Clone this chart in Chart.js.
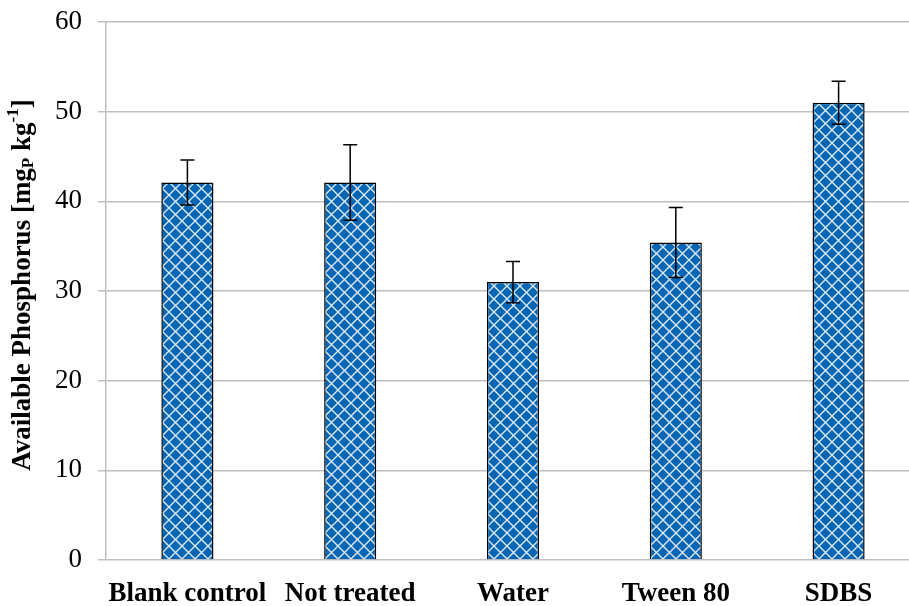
<!DOCTYPE html>
<html>
<head>
<meta charset="utf-8">
<script src="https://cdn.jsdelivr.net/npm/chart.js@4"></script>
<style>
  html, body { margin: 0; padding: 0; background: #fff; overflow: hidden; }
  #wrap { width: 922px; height: 606px; }
</style>
</head>
<body>
<div id="wrap"><canvas id="chart" width="922" height="606"></canvas></div>
<script>
const categories = ['Blank control', 'Not treated', 'Water', 'Tween 80', 'SDBS'];
const phosphorus = [42.1, 42.1, 31.0, 35.4, 51.0];
const errors = [2.5, 4.2, 2.3, 3.9, 2.4];
const yTicks = [0, 10, 20, 30, 40, 50, 60];

// blue fill with white diamond lattice
function makePattern() {
  const p = document.createElement('canvas');
  p.width = 13; p.height = 13;
  const c = p.getContext('2d');
  c.fillStyle = '#0666b4';
  c.fillRect(0, 0, 13, 13);
  c.strokeStyle = 'rgba(255,255,255,0.85)';
  c.lineWidth = 1.4;
  c.beginPath();
  c.moveTo(0, 0); c.lineTo(13, 13);
  c.moveTo(13, 0); c.lineTo(0, 13);
  c.stroke();
  return document.getElementById('chart').getContext('2d').createPattern(p, 'repeat');
}

const errorBars = {
  id: 'errorBars',
  afterDatasetsDraw(chart) {
    const ctx = chart.ctx;
    const y = chart.scales.y;
    const meta = chart.getDatasetMeta(0);
    ctx.save();
    ctx.strokeStyle = '#000';
    ctx.lineWidth = 1.5;
    meta.data.forEach((bar, i) => {
      const top = y.getPixelForValue(phosphorus[i] + errors[i]);
      const bot = y.getPixelForValue(phosphorus[i] - errors[i]);
      ctx.beginPath();
      ctx.moveTo(bar.x, top); ctx.lineTo(bar.x, bot);
      ctx.moveTo(bar.x - 7, top); ctx.lineTo(bar.x + 7, top);
      ctx.moveTo(bar.x - 7, bot); ctx.lineTo(bar.x + 7, bot);
      ctx.stroke();
    });
    ctx.restore();
  }
};

// y axis title with subscript / superscript
const yTitle = {
  id: 'yTitle',
  afterDraw(chart) {
    const ctx = chart.ctx;
    const area = chart.chartArea;
    const parts = [
      { t: 'Available Phosphorus [mg', s: 27, dy: 0 },
      { t: 'P', s: 17, dy: 6 },
      { t: ' kg', s: 27, dy: 0 },
      { t: '-1', s: 17, dy: -9 },
      { t: ']', s: 27, dy: 0 }
    ];
    ctx.save();
    let total = 0;
    parts.forEach(p => {
      ctx.font = 'bold ' + p.s + 'px "Liberation Serif", "Times New Roman", serif';
      p.w = ctx.measureText(p.t).width;
      total += p.w;
    });
    ctx.translate(22, (area.top + area.bottom) / 2 - 6);
    ctx.rotate(-Math.PI / 2);
    ctx.fillStyle = '#000';
    ctx.textBaseline = 'middle';
    let x = -total / 2;
    parts.forEach(p => {
      ctx.font = 'bold ' + p.s + 'px "Liberation Serif", "Times New Roman", serif';
      ctx.fillText(p.t, x, p.dy + 1);
      x += p.w;
    });
    ctx.restore();
  }
};

new Chart(document.getElementById('chart'), {
  type: 'bar',
  data: {
    labels: categories,
    datasets: [{
      data: phosphorus,
      backgroundColor: makePattern(),
      borderColor: '#000',
      borderWidth: 1.5,
      barPercentage: 0.32,
      categoryPercentage: 1
    }]
  },
  options: {
    responsive: false,
    animation: false,
    devicePixelRatio: 1,
    layout: { padding: { top: 22, right: 2, left: 0, bottom: 0 } },
    plugins: { legend: { display: false }, tooltip: { enabled: false } },
    scales: {
      x: {
        grid: { display: false, drawTicks: false },
        border: { display: false },
        ticks: {
          color: '#000',
          padding: 18,
          maxRotation: 0,
          minRotation: 0,
          autoSkip: false,
          font: { family: '"Liberation Serif", "Times New Roman", serif', size: 27, weight: 'bold' }
        },
        afterFit(scale) {
          scale.height = 46;
          scale.paddingLeft = 0;
          scale.paddingRight = 0;
        }
      },
      y: {
        min: 0,
        max: 60,
        afterBuildTicks(scale) { scale.ticks = yTicks.map(v => ({ value: v })); },
        grid: { color: '#bfbfbf', lineWidth: 1.5, tickLength: 8 },
        border: { color: '#bfbfbf', width: 1.5 },
        ticks: {
          color: '#000',
          padding: 16,
          font: { family: '"Liberation Serif", "Times New Roman", serif', size: 27 }
        },
        afterFit(scale) {
          scale.width = 106;
          scale.paddingTop = 0;
          scale.paddingBottom = 0;
        }
      }
    }
  },
  plugins: [errorBars, yTitle]
});
</script>
</body>
</html>
